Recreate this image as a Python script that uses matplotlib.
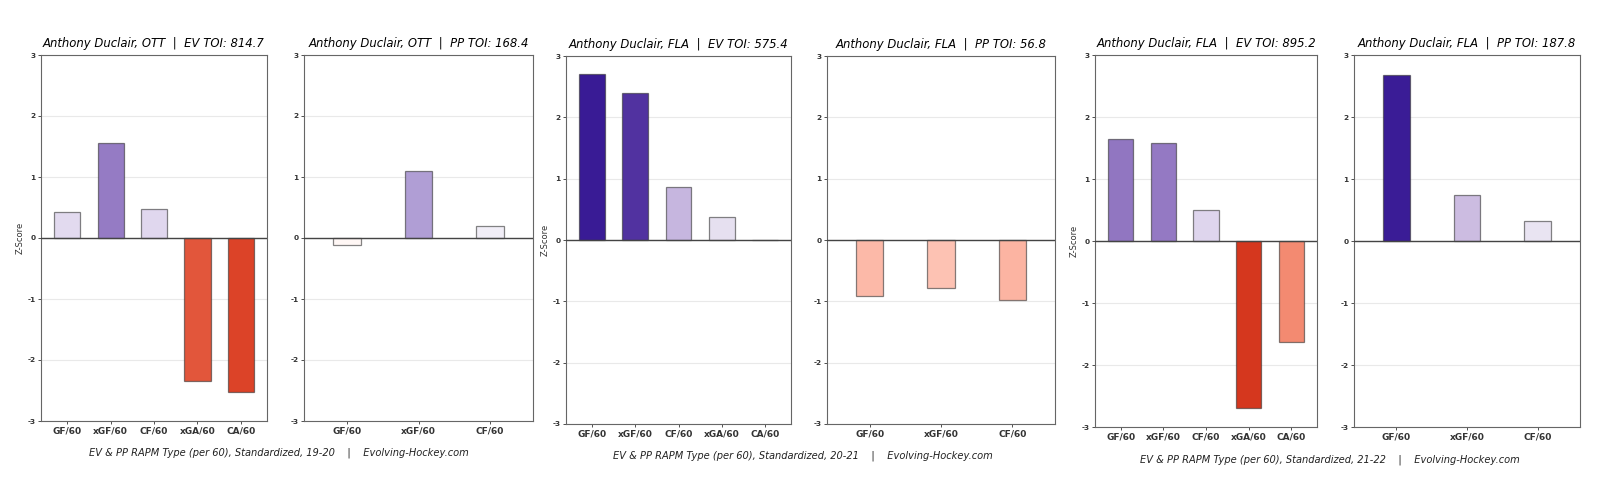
import numpy as np
import matplotlib
matplotlib.use("Agg")
import matplotlib.pyplot as plt
from matplotlib.colors import LinearSegmentedColormap, Normalize

# data
ev_labels = ["GF/60", "xGF/60", "CF/60", "xGA/60", "CA/60"]
pp_labels = ["GF/60", "xGF/60", "CF/60"]

seasons = ["19-20", "20-21", "21-22"]
teams = ["OTT", "FLA", "FLA"]
ev_toi = [814.7, 575.4, 895.2]
pp_toi = [168.4, 56.8, 187.8]

ev_1920 = [0.43, 1.56, 0.48, -2.34, -2.53]
pp_1920 = [-0.11, 1.10, 0.19]
ev_2021 = [2.70, 2.40, 0.86, 0.37, 0.005]
pp_2021 = [-0.91, -0.78, -0.98]
ev_2122 = [1.64, 1.58, 0.50, -2.70, -1.63]
pp_2122 = [2.68, 0.75, 0.32]

ev_vals = [ev_1920, ev_2021, ev_2122]
pp_vals = [pp_1920, pp_2021, pp_2122]

# red (bad) -> white -> purple (good)
cmap = LinearSegmentedColormap.from_list("rapm", [
    (0.0, "#c4200c"),
    (0.05, "#d6381f"),
    (0.08, "#dc4429"),
    (0.11, "#e2563b"),
    (0.23, "#f38b72"),
    (0.34, "#fcb5a3"),
    (0.37, "#fdc3b4"),
    (0.5, "#ffffff"),
    (0.56, "#e6e0f0"),
    (0.58, "#e0d7ee"),
    (0.63, "#cbbbe0"),
    (0.65, "#c4b3de"),
    (0.68, "#b19fd6"),
    (0.77, "#9277c2"),
    (0.90, "#5233a0"),
    (0.95, "#3a1c96"),
    (1.0, "#2e0f8c"),
])
norm = Normalize(-3, 3)

W, H = 1600, 479
fig = plt.figure(figsize=(16, 4.79), dpi=100)


def rect(l, r, t, b):
    return [l / W, 1 - b / H, (r - l) / W, (b - t) / H]


ev_rects = [rect(41, 267, 55, 421), rect(566, 791, 56, 424), rect(1095, 1317, 55, 427)]
pp_rects = [rect(304, 533, 55, 421), rect(827, 1055, 56, 424), rect(1354, 1580, 55, 427)]
foot_y = [453, 456, 460]


def draw(ax, labels, vals, width, title, ylabel):
    x = np.arange(len(labels))
    cols = [cmap(norm(v)) for v in vals]
    ax.bar(x, vals, width=width, color=cols, edgecolor=(0.2, 0.2, 0.2, 0.6),
           linewidth=0.9, zorder=3)
    ax.axhline(0, color="#444444", lw=1.0, zorder=4)
    ax.set_ylim(-3, 3)
    ax.set_xlim(-0.6, len(labels) - 0.4)
    ax.set_yticks(range(-3, 4))
    ax.set_yticklabels([str(i) for i in range(-3, 4)], fontsize=5.3, fontweight="bold")
    ax.set_xticks(x)
    ax.set_xticklabels(labels, fontsize=6.5, fontweight="bold", color="#444444")
    ax.tick_params(axis="both", length=2, width=0.6, pad=2, colors="#333333")
    ax.yaxis.grid(True, color="#e9e9e9", lw=0.8, zorder=0)
    for s in ax.spines.values():
        s.set_color("#666666")
        s.set_linewidth(0.8)
    ax.set_title(title, fontsize=8.4, style="italic", pad=5.5)
    if ylabel:
        ax.set_ylabel("Z-Score", fontsize=6, labelpad=2, color="#333333")


for i in range(3):
    ax1 = fig.add_axes(ev_rects[i])
    draw(ax1, ev_labels, ev_vals[i], 0.6,
         "Anthony Duclair, %s  |  EV TOI: %.1f" % (teams[i], ev_toi[i]), True)
    ax2 = fig.add_axes(pp_rects[i])
    draw(ax2, pp_labels, pp_vals[i], 0.38,
         "Anthony Duclair, %s  |  PP TOI: %.1f" % (teams[i], pp_toi[i]), False)
    l = ev_rects[i][0]
    r = pp_rects[i][0] + pp_rects[i][2]
    fig.text((l + r) / 2 - 8 / W, 1 - foot_y[i] / H,
             "EV & PP RAPM Type (per 60), Standardized, %s    |    Evolving-Hockey.com" % seasons[i],
             ha="center", va="center", fontsize=7.1, style="italic", color="#222222")

fig.savefig("out.png", dpi=100, facecolor="white")
